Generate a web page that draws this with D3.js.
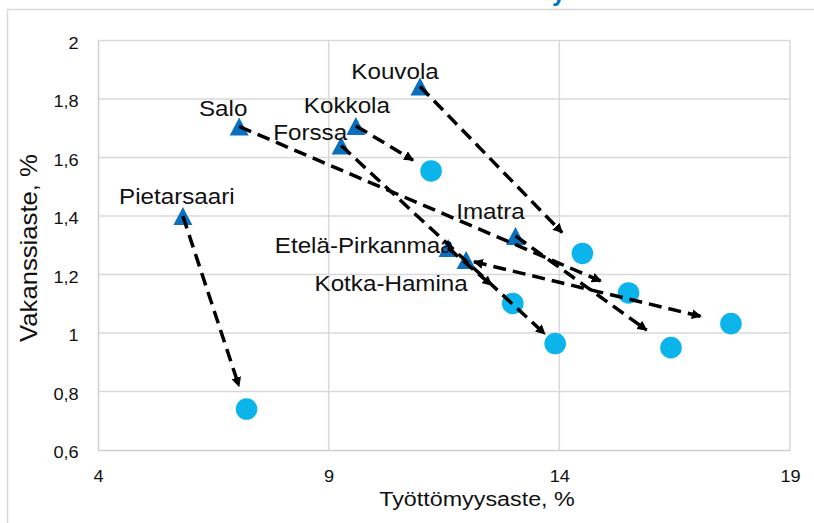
<!DOCTYPE html>
<html><head><meta charset="utf-8">
<script src="https://cdn.jsdelivr.net/npm/d3@7"></script>
<style>body{margin:0;background:#fff;} svg{display:block;font-family:"Liberation Sans",Arial,sans-serif;}</style>
</head><body><svg id="c" width="814" height="523"></svg>
<script>
// ---- data ----
const regions    = ["Pietarsaari","Salo","Kokkola","Forssa","Kouvola","Imatra","Etelä-Pirkanmaa","Kotka-Hamina"];
const startUnemp = [5.84, 7.06, 9.59, 9.27, 10.98, 13.05, 11.59, 11.98];
const startVac   = [1.400, 1.706, 1.708, 1.641, 1.843, 1.332, 1.291, 1.250];
const endUnemp   = [7.22, 15.50, 11.22, 13.91, 14.50, 16.42, 12.99, 17.72];
const endVac     = [0.740, 1.137, 1.554, 0.964, 1.272, 0.950, 1.101, 1.032];
const xTicks = [4, 9, 14, 19];
const yTicks = [0.6, 0.8, 1, 1.2, 1.4, 1.6, 1.8, 2];
const xTitle = "Työttömyysaste, %";
const yTitle = "Vakanssiaste, %";
const titleTail = "y";

// ---- layout ----
const plot = {left: 98, right: 790, top: 40.5, bottom: 450};
const labelOffset = {
  "Pietarsaari": [-6, -12], "Salo": [-16, -10], "Kokkola": [-9, -13], "Forssa": [-31, -6],
  "Kouvola": [-25, -7], "Imatra": [-25, -17], "Etelä-Pirkanmaa": [-84, 5], "Kotka-Hamina": [-75, 31]
};
// gap (px) left between arrow tip and the end marker
const arrowGap = {
  "Pietarsaari": 24, "Salo": 30, "Kokkola": 21, "Forssa": 14,
  "Kouvola": 29, "Imatra": 30, "Etelä-Pirkanmaa": 28, "Kotka-Hamina": 31
};
const doubleHeaded = ["Kotka-Hamina"];
const gridColor = "#d9d9d9";
const FONT = "Liberation Sans, Arial, sans-serif";

const svg = d3.select("#c");
const x = d3.scaleLinear().domain([4, 19]).range([plot.left, plot.right]);
const y = d3.scaleLinear().domain([0.6, 2]).range([plot.bottom, plot.top]);
const fmt = d3.formatLocale({decimal: ",", thousands: " ", grouping: [3], currency: ["", "€"]}).format(".1~f");

// outer chart frame
svg.append("rect").attr("x", 7.5).attr("y", 9.5).attr("width", 900).attr("height", 600)
  .attr("fill", "none").attr("stroke", gridColor).attr("stroke-width", 1.5);

// clipped title (only the descender is visible in the reference)
svg.append("text").attr("x", 552).attr("y", 0.5).attr("font-size", 24).attr("font-weight", "bold")
  .attr("fill", "#0070c0").text(titleTail);

// gridlines
svg.append("g").selectAll("line").data(yTicks.filter(d => d > 0.6)).join("line")
  .attr("x1", plot.left).attr("x2", plot.right).attr("y1", d => y(d)).attr("y2", d => y(d))
  .attr("stroke", gridColor).attr("stroke-width", 1.5);
svg.append("g").selectAll("line").data(xTicks.filter(d => d > 4)).join("line")
  .attr("y1", plot.top).attr("y2", plot.bottom).attr("x1", d => x(d)).attr("x2", d => x(d))
  .attr("stroke", gridColor).attr("stroke-width", 1.5);

// axes
const ya = svg.append("g").attr("transform", `translate(${plot.left},0)`)
  .call(d3.axisLeft(y).tickValues(yTicks).tickSize(0).tickPadding(18).tickFormat(fmt));
ya.select(".domain").attr("stroke", "#cfcfcf").attr("stroke-width", 1.5);
ya.selectAll("text").attr("font-size", 17).attr("font-family", FONT)
  .attr("fill", "#111").attr("dy", "0.47em").attr("transform", "scale(1.07,1)");

const xa = svg.append("g").attr("transform", `translate(0,${plot.bottom})`)
  .call(d3.axisBottom(x).tickValues(xTicks).tickSize(0).tickPadding(20).tickFormat(fmt));
xa.select(".domain").attr("stroke", "#cfcfcf").attr("stroke-width", 1.5);
xa.selectAll("text").attr("font-size", 17).attr("font-family", FONT)
  .attr("fill", "#111").attr("transform", "scale(1.07,1)");

// axis titles
svg.append("text").attr("transform", "translate(477,506) scale(1.11,1)")
  .attr("text-anchor", "middle").attr("font-size", 21).attr("fill", "#111").text(xTitle);
svg.append("text").attr("transform", "translate(37,248) rotate(-90) scale(1.07,1)")
  .attr("text-anchor", "middle").attr("font-size", 24).attr("fill", "#111").text(yTitle);

// data rows
const rows = regions.map((r, i) => ({
  name: r, x0: startUnemp[i], y0: startVac[i], x1: endUnemp[i], y1: endVac[i]
}));

// end points (circles)
svg.append("g").selectAll("circle").data(rows).join("circle")
  .attr("cx", d => x(d.x1)).attr("cy", d => y(d.y1)).attr("r", 10.8).attr("fill", "#0bb5ec");

// start points (triangles)
svg.append("g").selectAll("path").data(rows).join("path")
  .attr("transform", d => `translate(${x(d.x0)},${y(d.y0)})`)
  .attr("d", "M0,-9L9.5,9L-9.5,9Z").attr("fill", "#0a6fbd");

// labels
svg.append("g").selectAll("text").data(rows).join("text")
  .attr("transform", d => {
    const o = labelOffset[d.name];
    return `translate(${x(d.x0) + o[0]},${y(d.y0) + o[1]}) scale(1.1,1)`;
  })
  .attr("text-anchor", "middle").attr("font-size", 22).attr("fill", "#111").text(d => d.name);

// arrows
const defs = svg.append("defs");
defs.append("marker").attr("id", "ah").attr("viewBox", "0 -5 10 10")
  .attr("refX", 9).attr("refY", 0).attr("markerWidth", 10).attr("markerHeight", 10)
  .attr("markerUnits", "userSpaceOnUse").attr("orient", "auto-start-reverse")
  .append("path").attr("d", "M0,-5L10,0L0,5Z").attr("fill", "#000");

svg.append("g").selectAll("line").data(rows).join("line")
  .each(function(d) {
    const sx = x(d.x0), sy = y(d.y0), ex = x(d.x1), ey = y(d.y1);
    const L = Math.hypot(ex - sx, ey - sy);
    const ux = (ex - sx) / L, uy = (ey - sy) / L;
    const dbl = doubleHeaded.includes(d.name);
    const st = dbl ? 8 : 0;
    const gap = arrowGap[d.name];
    d3.select(this)
      .attr("x1", sx + ux * st).attr("y1", sy + uy * st)
      .attr("x2", ex - ux * gap).attr("y2", ey - uy * gap)
      .attr("stroke", "#000").attr("stroke-width", 3.5).attr("stroke-dasharray", "13,7")
      .attr("marker-end", "url(#ah)")
      .attr("marker-start", dbl ? "url(#ah)" : null);
  });
</script></body></html>
